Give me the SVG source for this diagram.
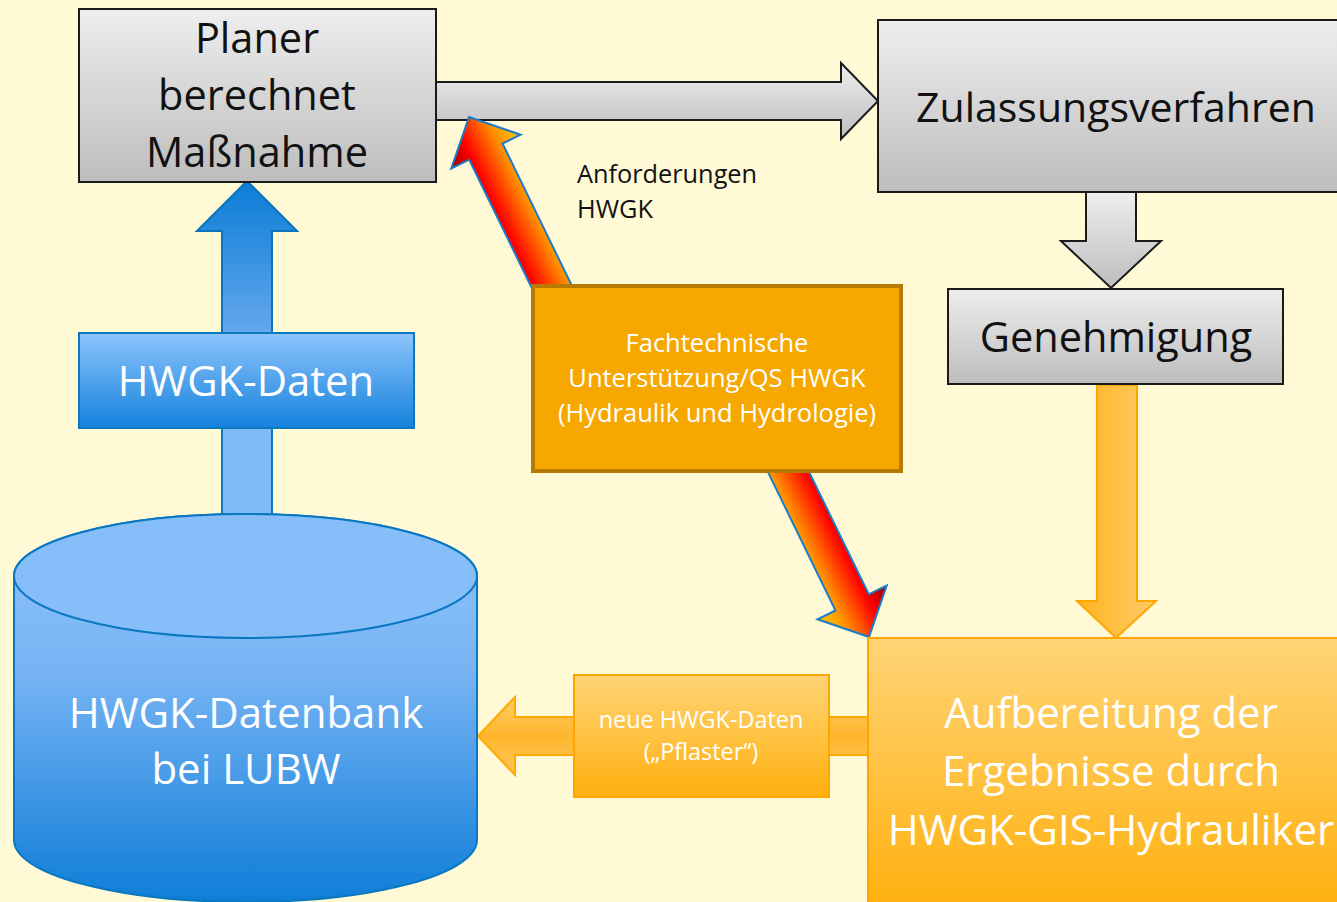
<svg xmlns="http://www.w3.org/2000/svg" width="1337" height="902" viewBox="0 0 1337 902">
<defs>
<linearGradient id="gGray" x1="0" y1="0" x2="0" y2="1"><stop offset="0" stop-color="#EEEEEE"/><stop offset="1" stop-color="#BDBDBD"/></linearGradient>
<linearGradient id="gBlue" x1="0" y1="0" x2="0" y2="1"><stop offset="0" stop-color="#8EC4FC"/><stop offset="1" stop-color="#1482DC"/></linearGradient>
<linearGradient id="gBlueArrow" x1="0" y1="0" x2="0" y2="1"><stop offset="0" stop-color="#0A7CD6"/><stop offset="1" stop-color="#64A8EC"/></linearGradient>
<linearGradient id="gCyl" gradientUnits="userSpaceOnUse" x1="0" y1="514" x2="0" y2="902"><stop offset="0" stop-color="#8EC4FD"/><stop offset="0.4" stop-color="#78B4F4"/><stop offset="1" stop-color="#0E7ED8"/></linearGradient>
<linearGradient id="gOrange" x1="0" y1="0" x2="0" y2="1"><stop offset="0" stop-color="#FFD476"/><stop offset="1" stop-color="#FFB00E"/></linearGradient>
<linearGradient id="gOrangeH" x1="0" y1="0" x2="1" y2="0"><stop offset="0" stop-color="#FFB320"/><stop offset="1" stop-color="#FFCC68"/></linearGradient>
<linearGradient id="gOrangeV" x1="0" y1="0" x2="0" y2="1"><stop offset="0" stop-color="#FFCE6C"/><stop offset="0.5" stop-color="#FFB52C"/><stop offset="1" stop-color="#FFC860"/></linearGradient>
<linearGradient id="gFire" gradientUnits="userSpaceOnUse" x1="-38.5" y1="0" x2="38.5" y2="0"><stop offset="0" stop-color="#9A0000"/><stop offset="0.3" stop-color="#FF0000"/><stop offset="0.7" stop-color="#FF9000"/><stop offset="1" stop-color="#FFCC00"/></linearGradient>
<path id="fireArrow" d="M0,0 L38.5,38.5 L18.5,38.5 L18.5,205 L-18.5,205 L-18.5,38.5 L-38.5,38.5 Z"/>
</defs>
<style>
.gray{fill:url(#gGray);stroke:#1A1A1A;stroke-width:2}
.dark{font-family:"Open Sans","Liberation Sans",sans-serif;fill:#111;text-anchor:middle}
.white{font-family:"Open Sans","Liberation Sans",sans-serif;fill:#FFFFFF;text-anchor:middle}
.fire{fill:url(#gFire);stroke:#1C7CC8;stroke-width:2;stroke-linejoin:miter}
</style>
<rect x="0" y="0" width="1337" height="902" fill="#FFF9D6"/>

<g id="connectors">
  <polygon class="gray" points="436,82 841,82 841,63 878,101 841,139 841,120 436,120"/>
  <polygon class="gray" points="1086,192 1136,192 1136,241 1161,241 1111,288 1061,241 1086,241"/>
  <polygon fill="url(#gBlueArrow)" stroke="#0B74BC" stroke-width="2" points="222,333 222,231 197,231 247,181 297,231 272,231 272,333"/>
  <rect x="222" y="428" width="50" height="88" fill="#80BAF8" stroke="#0B78C0" stroke-width="2"/>
  <polygon fill="url(#gOrangeH)" stroke="#FFA500" stroke-width="2" points="1097,385 1137,385 1137,601 1156,601 1116,638 1077,601 1097,601"/>
  <polygon fill="url(#gOrangeV)" stroke="#FFA800" stroke-width="2" points="868,717 515,717 515,697 478,736 515,775 515,755 868,755"/>
  <use href="#fireArrow" class="fire" transform="translate(469,117) rotate(-26)"/>
  <use href="#fireArrow" class="fire" transform="translate(869,637) rotate(154)"/>
</g>

<g id="planer">
  <rect class="gray" x="79" y="9" width="357" height="173"/>
  <text class="dark" font-size="41.5"><tspan x="257" y="53">Planer</tspan><tspan x="257" y="110">berechnet</tspan><tspan x="257" y="167">Maßnahme</tspan></text>
</g>

<g id="zulassung">
  <rect class="gray" x="878" y="20" width="470" height="172"/>
  <text class="dark" font-size="41" x="1116" y="122">Zulassungsverfahren</text>
</g>

<g id="genehmigung">
  <rect class="gray" x="948" y="289" width="335" height="95"/>
  <text class="dark" font-size="41.5" x="1116" y="352">Genehmigung</text>
</g>

<g id="anforderungen">
  <text font-family="'Open Sans','Liberation Sans',sans-serif" font-size="25.3" fill="#111"><tspan x="577" y="183">Anforderungen</tspan><tspan x="577" y="218">HWGK</tspan></text>
</g>

<g id="fachtechnische">
  <rect x="533" y="286" width="368" height="185" fill="#F6A800" stroke="#B67A00" stroke-width="4"/>
  <text class="white" font-size="25.5"><tspan x="717" y="352">Fachtechnische</tspan><tspan x="717" y="387">Unterstützung/QS HWGK</tspan><tspan x="717" y="422">(Hydraulik und Hydrologie)</tspan></text>
</g>

<g id="hwgk-daten">
  <rect x="79" y="333" width="335" height="95" fill="url(#gBlue)" stroke="#0B78C0" stroke-width="2"/>
  <text class="white" font-size="41.8" x="246" y="396">HWGK-Daten</text>
</g>

<g id="datenbank">
  <path d="M14,576 A231.5,62 0 0 1 477,576 L477,840 A231.5,62 0 0 1 14,840 Z" fill="url(#gCyl)" stroke="#0A78C0" stroke-width="2"/>
  <ellipse cx="245.5" cy="576" rx="231.5" ry="62" fill="#86BEFA" stroke="#0A78C0" stroke-width="2"/>
  <text class="white" font-size="42"><tspan x="246" y="728">HWGK-Datenbank</tspan><tspan x="246" y="784">bei LUBW</tspan></text>
</g>

<g id="pflaster">
  <rect x="574" y="675" width="255" height="122" fill="url(#gOrange)" stroke="#FFA500" stroke-width="2"/>
  <text class="white" font-size="23.4"><tspan x="701" y="728">neue HWGK-Daten</tspan><tspan x="701" y="760">(„Pflaster“)</tspan></text>
</g>

<g id="aufbereitung">
  <rect x="868" y="638" width="480" height="270" fill="url(#gOrange)" stroke="#FFA500" stroke-width="2"/>
  <text class="white" font-size="42"><tspan x="1111" y="728">Aufbereitung der</tspan><tspan x="1111" y="786">Ergebnisse durch</tspan><tspan x="1111" y="845">HWGK-GIS-Hydrauliker</tspan></text>
</g>
</svg>
